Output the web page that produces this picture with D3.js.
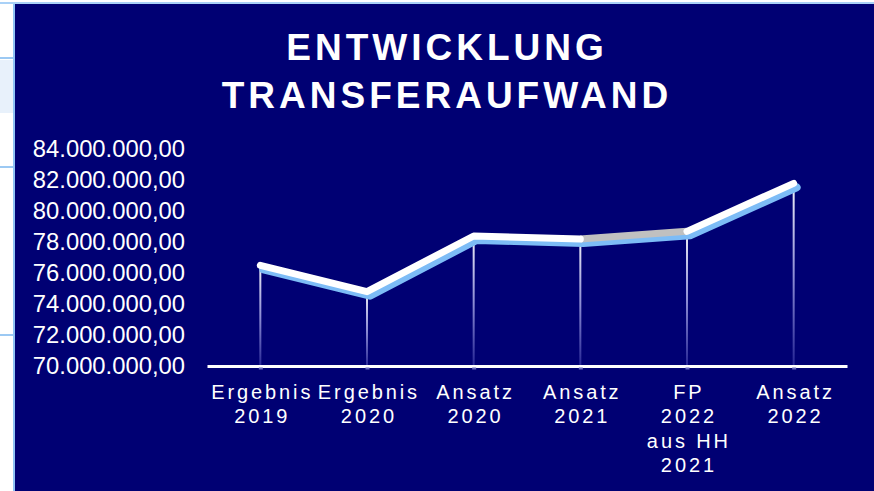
<!DOCTYPE html>
<html><head><meta charset="utf-8">
<script src="https://cdn.jsdelivr.net/npm/d3@7/dist/d3.min.js"></script>
<style>
html,body{margin:0;padding:0;background:#fff;}
svg{display:block;}
</style></head>
<body>
<svg id="c" width="874" height="491"></svg>
<script>
const titleLines = ["ENTWICKLUNG", "TRANSFERAUFWAND"];
const categories = [
  ["Ergebnis","2019"],
  ["Ergebnis","2020"],
  ["Ansatz","2020"],
  ["Ansatz","2021"],
  ["FP","2022","aus HH","2021"],
  ["Ansatz","2022"]
];
const values = [76500000, 74800000, 78400000, 78200000, 78700000, 81800000];
const greySegment = [3, 4]; // segment drawn in grey
const yTicks = [70000000, 72000000, 74000000, 76000000, 78000000, 80000000, 82000000, 84000000];

const NAVY = "#000073";
const svg = d3.select("#c");
const W = 874, H = 491;

// page decoration
svg.append("rect").attr("x",0).attr("y",0).attr("width",W).attr("height",H).attr("fill","#fff");
svg.append("rect").attr("x",0).attr("y",60).attr("width",14).attr("height",53).attr("fill","#e8f1fb");
[58,167,335].forEach(y=>svg.append("rect").attr("x",0).attr("y",y-1).attr("width",14).attr("height",2).attr("fill","#9cc9f3"));
svg.append("rect").attr("x",15).attr("y",4).attr("width",W-15).attr("height",H-4).attr("fill",NAVY);
svg.append("rect").attr("x",13).attr("y",4).attr("width",2).attr("height",H-4).attr("fill","#8fc3f5");
svg.append("rect").attr("x",0).attr("y",2).attr("width",W).attr("height",2).attr("fill","#a9d1f7");

// title
const title = svg.append("text").attr("fill","#fff")
  .attr("font-family","Liberation Sans, Arial, sans-serif").attr("font-weight","bold")
  .attr("font-size",37).attr("letter-spacing",4).attr("text-anchor","middle");
titleLines.forEach((t,i)=>title.append("tspan").attr("x",447).attr("y",60+i*48).text(t));

// scales
const x = d3.scalePoint().domain(d3.range(categories.length)).range([207,847]).padding(0.5);
const y = d3.scaleLinear().domain([70000000,84000000]).range([366,149.3]);

const loc = d3.formatLocale({decimal:",", thousands:".", grouping:[3], currency:["","€"]});
const fmt = loc.format(",.2f");

// defs
const defs = svg.append("defs");
const grad = defs.append("linearGradient").attr("id","drop").attr("x1",0).attr("y1",0).attr("x2",0).attr("y2",1);
grad.append("stop").attr("offset","0%").attr("stop-color","#ffffff").attr("stop-opacity",0.95);
grad.append("stop").attr("offset","50%").attr("stop-color","#b0b0ec").attr("stop-opacity",0.8);
grad.append("stop").attr("offset","100%").attr("stop-color","#2a2a9a").attr("stop-opacity",0.8);
defs.append("filter").attr("id","blur").append("feGaussianBlur").attr("stdDeviation",0.6);

// y axis
const yAxis = svg.append("g").attr("transform","translate(185,0)")
  .call(d3.axisLeft(y).tickValues(yTicks).tickFormat(fmt).tickSize(0).tickPadding(0));
yAxis.select(".domain").remove();
yAxis.selectAll("text").attr("fill","#fff").attr("font-size",23.8)
  .attr("font-family","Liberation Sans, Arial, sans-serif");

// drop lines (rects so the gradient bounding box is valid)
svg.append("g").selectAll("rect").data(values).join("rect")
  .attr("x",(d,i)=>x(i)-1).attr("width",2)
  .attr("y",d=>y(d)).attr("height",d=>369-y(d))
  .attr("fill","url(#drop)");

// x axis
const xAxis = svg.append("g").attr("transform","translate(0,366)")
  .call(d3.axisBottom(x).tickSize(0).tickSizeOuter(0).tickFormat(""));
xAxis.select(".domain").attr("stroke","#fff").attr("stroke-width",3);
xAxis.selectAll(".tick text").remove();
xAxis.selectAll(".tick").append("rect").attr("x",-2).attr("y",1.5).attr("width",4).attr("height",2).attr("fill","#6a6ac0");
xAxis.selectAll(".tick").append("text")
  .attr("fill","#fff").attr("font-size",20).attr("letter-spacing",2.9)
  .attr("font-family","Liberation Sans, Arial, sans-serif").attr("text-anchor","middle")
  .each(function(i){
    const t = d3.select(this);
    categories[i].forEach((s,k)=>t.append("tspan").attr("x",1.4).attr("y",33+k*24.3).text(s));
  });

// line
const pts = values.map((v,i)=>[x(i), y(v)]);
const line = d3.line();
svg.append("path").attr("d",line(pts)).attr("transform","translate(3,4)")
  .attr("fill","none").attr("stroke","#7dbcf6").attr("stroke-width",8)
  .attr("stroke-linejoin","round").attr("stroke-linecap","round").attr("filter","url(#blur)");
svg.append("path").attr("d",line(pts.slice(greySegment[0],greySegment[1]+1)))
  .attr("fill","none").attr("stroke","#c0c0c0").attr("stroke-width",7);
svg.append("path").attr("d",line(pts.slice(0,greySegment[0]+1)))
  .attr("fill","none").attr("stroke","#fff").attr("stroke-width",7)
  .attr("stroke-linejoin","round").attr("stroke-linecap","round");
svg.append("path").attr("d",line(pts.slice(greySegment[1])))
  .attr("fill","none").attr("stroke","#fff").attr("stroke-width",7)
  .attr("stroke-linejoin","round").attr("stroke-linecap","round");
</script>
</body></html>
